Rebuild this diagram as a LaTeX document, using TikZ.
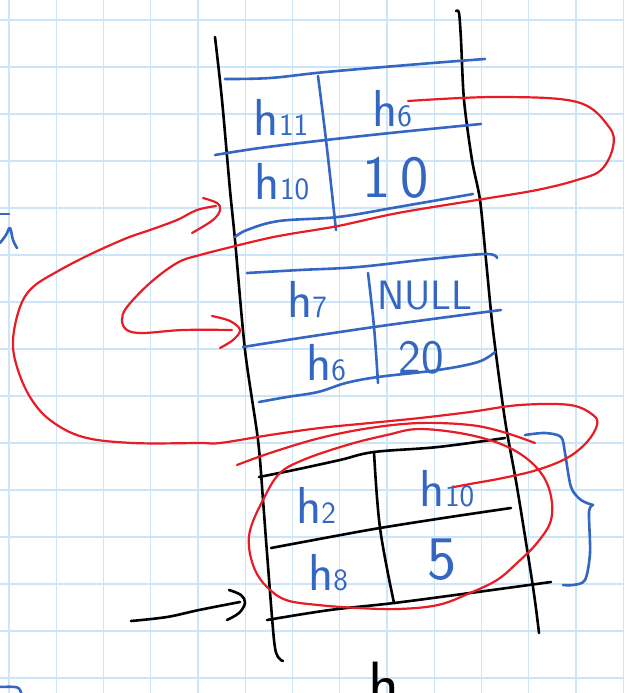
\documentclass[tikz,border=0pt]{standalone}
\definecolor{skblue}{RGB}{52,102,196}
\definecolor{skred}{RGB}{232,28,36}
\definecolor{gridc}{RGB}{204,230,248}
\newcommand\hsub[1]{h{\fontsize{31}{31}\selectfont #1}}
\begin{document}
\begin{tikzpicture}[x=1pt,y=-1pt,
 gridline/.style={draw=gridc,line width=1.3pt},
 inkblack/.style={draw=black,line width=2.6pt,line cap=round,line join=round},
 inkblue/.style={draw=skblue,line width=2.6pt,line cap=round,line join=round},
 inkred/.style={draw=skred,line width=2.2pt,line cap=round,line join=round},
 lbl/.style={text=skblue,inner sep=0pt,font=\sffamily\fontsize{52}{52}\selectfont},
 big/.style={lbl,font=\sffamily\fontsize{60}{60}\selectfont}]
\useasboundingbox (0,0) rectangle (624,693);
\fill[white] (0,0) rectangle (624,693);
% grid paper
\foreach \i in {0,...,13} \draw[gridline] ({9+47.25*\i},0) -- ({9+47.25*\i},693);
\foreach \j in {0,...,14} \draw[gridline] (0,{20+47*\j}) -- (624,{20+47*\j});

% column walls
\draw[inkblack] plot[smooth,tension=0.5] coordinates {(215,37) (222,100) (230,190) (235,240) (245,350) (258,440) (263,500) (267,553) (274,640) (278,657) (283,661)};
\draw[inkblack] plot[smooth,tension=0.5] coordinates {(456,11) (459,13) (461,40) (464,100) (472,160) (480,200) (486,260) (493,330) (505,420) (517,487) (533,587) (539,633)};

% top block (blue)
\draw[inkblue] plot[smooth,tension=0.6] coordinates {(225,79) (270,78) (326,72) (420,64) (485,59)};
\draw[inkblue] plot[smooth,tension=0.6] coordinates {(481,124) (400,132) (326,140) (260,148) (215,155)};
\draw[inkblue] plot[smooth,tension=0.6] coordinates {(473,194) (398,207) (338,217) (279,221) (247,230) (235,237)};
\draw[inkblue] plot[smooth,tension=0.6] coordinates {(318,76) (326,140) (336,230)};
\node[lbl] (h11) at (281,117) {\hsub{11}};
\node[lbl] (h6a) at (392,109) {\hsub{6}};
\node[lbl] (h10a) at (282,182) {\hsub{10}};
\node[big] (v10) at (396,178) {1\,0};

% middle block (blue)
\draw[inkblue] plot[smooth,tension=0.6] coordinates {(247,273) (300,270) (358,267) (430,259) (486,254) (497,258)};
\draw[inkblue] plot[smooth,tension=0.6] coordinates {(243,347) (300,338) (374,327) (440,318) (501,310)};
\draw[inkblue] plot[smooth,tension=0.6] coordinates {(259,402) (287,397) (318,392) (346,383) (378,377) (438,370) (478,362) (495,352)};
\draw[inkblue] plot[smooth,tension=0.6] coordinates {(368,273) (374,327) (378,383)};
\node[lbl] (h7) at (307,300) {\hsub{7}};
\node[lbl,font=\sffamily\fontsize{41}{41}\selectfont] (null) at (425,296) {NULL};
\node[lbl] (h6b) at (326,363) {\hsub{6}};
\node[lbl,font=\sffamily\fontsize{48}{48}\selectfont] (v20) at (421,358) {20};

% bottom block (black)
\draw[inkblack] plot[smooth,tension=0.6] coordinates {(259,477) (294,470) (340,460) (374,452) (438,447) (505,438)};
\draw[inkblack] plot[smooth,tension=0.6] coordinates {(271,548) (330,537) (380,528) (450,517) (511,508)};
\draw[inkblack] plot[smooth,tension=0.6] coordinates {(267,620) (330,610) (394,603) (470,593) (551,582)};
\draw[inkblack] plot[smooth,tension=0.6] coordinates {(374,452) (380,528) (394,603)};
\node[lbl] (h2) at (316,505) {\hsub{2}};
\node[lbl] (h10c) at (447,489) {\hsub{10}};
\node[lbl] (h8) at (328,573) {\hsub{8}};
\node[lbl,font=\sffamily\fontsize{62}{62}\selectfont] (v5) at (442,560) {5};

% black arrow to bottom block
\coordinate (tipA) at (240,602);
\draw[inkblack] plot[smooth,tension=0.6] coordinates {(131,621) (167,617) (199,610) (tipA)};
\draw[inkblack] plot[smooth,tension=0.6] coordinates {(229,590) (241,595) (245,603) (239,613) (227,620)};

% blue brace
\draw[inkblue] plot[smooth,tension=0.5] coordinates {(525,435) (545,433) (561,437) (565,453) (571,487) (581,500) (593,505)};
\draw[inkblue] plot[smooth,tension=0.5] coordinates {(593,505) (589,512) (590,553) (585,580) (573,585) (563,585)};

% partial letters at the edges
\draw[inkblue] (0,214) -- (9,214);
\draw[inkblue] plot[smooth,tension=0.6] coordinates {(0,243) (6,235) (10,228) (13,240) (17,248)};
\draw[inkblue] plot[smooth,tension=0.6] coordinates {(-2,687) (15,687) (20,690) (22,697)};
\node[text=black,inner sep=0pt,font=\sffamily\fontsize{64}{64}\selectfont,anchor=base west] (hb) at (368,706) {h};

% red arrow: h6 -> middle block
\coordinate (tipB) at (232,330);
\draw[inkred] plot[smooth,tension=0.6] coordinates {([xshift=-4pt,yshift=8pt]h6a.east) (497,97) (577,102) (609,127) (613,147) (601,170) (577,180) (537,190) (477,200) (398,213) (338,226) (290,234) (260,240) (200,255) (177,263) (150,283) (127,307) (122,320) (127,330) (143,333) (183,330) (tipB)};
\draw[inkred] plot[smooth,tension=0.6] coordinates {(212,316) (230,321) (240,330) (233,340) (220,348)};

% red arrow: bottom h10 -> top block
\coordinate (tipC) at (216,206);
\draw[inkred] plot[smooth,tension=0.6] coordinates {([xshift=7pt,yshift=2pt]h10c.center) (470,484) (503,478) (537,470) (567,458) (587,442) (597,425) (593,415) (570,405) (520,405) (470,412) (420,418) (370,423) (320,428) (270,435) (220,443) (200,443) (133,443) (83,437) (50,420) (30,397) (17,367) (13,340) (20,307) (33,287) (60,270) (93,253) (127,238) (150,230) (177,220) (197,210) (tipC)};
\draw[inkred] plot[smooth,tension=0.6] coordinates {(203,198) (217,203) (220,210) (213,220) (192,233)};

% red loop around bottom block
\draw[inkred] plot[smooth,tension=0.6] coordinates {(237,465) (270,453) (320,438) (370,428) (420,423) (470,425) (503,432) (535,443)};
\draw[inkred] plot[smooth cycle,tension=0.6] coordinates {(279,474) (303,460) (347,445) (387,435) (420,429) (470,435) (510,448) (537,468) (550,492) (551,520) (537,543) (517,563) (497,580) (470,593) (438,605) (398,609) (358,608) (318,605) (286,600) (267,587) (255,570) (249,547) (251,527) (263,500)};
\end{tikzpicture}
\end{document}
